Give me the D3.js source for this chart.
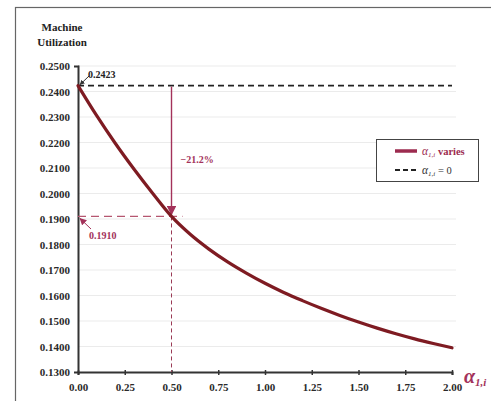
<!DOCTYPE html>
<html>
<head>
<meta charset="utf-8">
<script src="https://cdn.jsdelivr.net/npm/d3@7"></script>
<style>
  html, body { margin: 0; padding: 0; background: #fff; }
  svg { display: block; }
  text { font-family: "Liberation Serif", "DejaVu Serif", serif; }
</style>
</head>
<body>
<div id="chart"></div>
<script>
// Machine utilization as alpha(1,i) grows from 0 to 2
const alphaValues = [0.00, 0.10, 0.20, 0.30, 0.40, 0.50, 0.60, 0.70, 0.80, 0.90, 1.00,
                     1.10, 1.20, 1.30, 1.40, 1.50, 1.60, 1.70, 1.80, 1.90, 2.00];
const utilization = [0.2423, 0.2305, 0.2196, 0.2095, 0.2000, 0.1910, 0.1840, 0.1782, 0.1732, 0.1688, 0.1648,
                     0.1612, 0.1580, 0.1550, 0.1522, 0.1496, 0.1472, 0.1450, 0.1430, 0.1412, 0.1395];
const baselineValue = 0.2423;          // alpha(1,i) = 0
const markedAlpha = 0.50;
const markedValue = 0.1910;
const changeLabel = "\u221221.2%";
const yTicks = [0.13, 0.14, 0.15, 0.16, 0.17, 0.18, 0.19, 0.20, 0.21, 0.22, 0.23, 0.24, 0.25];
const xTicks = [0.00, 0.25, 0.50, 0.75, 1.00, 1.25, 1.50, 1.75, 2.00];

const W = 491, H = 401;
const curveColor = "#7e1b22";
const accent = "#a3325a";

const svg = d3.select("#chart").append("svg").attr("width", W).attr("height", H);

// outer frame
svg.append("rect").attr("x", 15.5).attr("y", 7.5).attr("width", 490).attr("height", 400)
  .attr("fill", "none").attr("stroke", "#666").attr("stroke-width", 1.2);

const x = d3.scaleLinear().domain([0, 2]).range([78, 452]);
const y = d3.scaleLinear().domain([0.13, 0.25]).range([372, 66]);

// horizontal gridlines
svg.append("g").selectAll("line").data(yTicks.slice(1)).join("line")
  .attr("x1", x(0)).attr("x2", 456)
  .attr("y1", d => y(d)).attr("y2", d => y(d))
  .attr("stroke", "#ebebeb").attr("stroke-width", 1.2);

// axes
const yAxis = svg.append("g").attr("transform", `translate(${x(0)},0)`)
  .call(d3.axisLeft(y).tickValues(yTicks).tickFormat(d3.format(".4f")).tickSize(4).tickPadding(4));
const xAxis = svg.append("g").attr("transform", `translate(0,${y(0.13)})`)
  .call(d3.axisBottom(x).tickValues(xTicks).tickFormat(d3.format(".2f")).tickSize(3).tickPadding(8));
[yAxis, xAxis].forEach(g => {
  g.select(".domain").attr("stroke", "#333").attr("stroke-width", 2);
  g.selectAll(".tick line").attr("stroke", "#333").attr("stroke-width", 1.5);
  g.selectAll(".tick text").attr("fill", "#2a2a2a").attr("font-family", "Liberation Serif, serif")
    .attr("font-size", 11).attr("font-weight", "bold");
});
xAxis.selectAll(".tick line").attr("y1", -2);
yAxis.selectAll(".tick line").attr("x2", 1);

// y axis title
const title = svg.append("text").attr("font-size", 11).attr("font-weight", "bold").attr("fill", "#222");
title.append("tspan").attr("x", 62).attr("y", 31).attr("text-anchor", "middle").text("Machine");
title.append("tspan").attr("x", 62).attr("y", 46).attr("text-anchor", "middle").text("Utilization");

// baseline (alpha = 0) dashed line
svg.append("line").attr("x1", x(0)).attr("x2", x(2))
  .attr("y1", y(baselineValue)).attr("y2", y(baselineValue))
  .attr("stroke", "#222").attr("stroke-width", 1.6).attr("stroke-dasharray", "6,4");

// reference dashed lines at the marked point
svg.append("line").attr("x1", x(0)).attr("x2", x(markedAlpha) + 11)
  .attr("y1", y(markedValue)).attr("y2", y(markedValue))
  .attr("stroke", "#b5566f").attr("stroke-width", 1.3).attr("stroke-dasharray", "8,5");
svg.append("line").attr("x1", x(markedAlpha)).attr("x2", x(markedAlpha))
  .attr("y1", y(markedValue)).attr("y2", y(0.13))
  .attr("stroke", "#9a3a55").attr("stroke-width", 1).attr("stroke-dasharray", "4,3");

// arrow markers
const defs = svg.append("defs");
defs.append("marker").attr("id", "arrowAccent").attr("viewBox", "0 0 10 10")
  .attr("refX", 9).attr("refY", 5).attr("markerWidth", 7).attr("markerHeight", 7)
  .attr("orient", "auto-start-reverse")
  .append("path").attr("d", "M0,0 L10,5 L0,10 z").attr("fill", accent);
defs.append("marker").attr("id", "arrowDark").attr("viewBox", "0 0 10 10")
  .attr("refX", 9).attr("refY", 5).attr("markerWidth", 5).attr("markerHeight", 5)
  .attr("orient", "auto")
  .append("path").attr("d", "M0,0 L10,5 L0,10 z").attr("fill", "#333");

// drop arrow from baseline to marked value
svg.append("line").attr("x1", x(markedAlpha)).attr("x2", x(markedAlpha))
  .attr("y1", y(baselineValue) + 1).attr("y2", y(markedValue) - 2)
  .attr("stroke", accent).attr("stroke-width", 1.4).attr("marker-end", "url(#arrowAccent)");
svg.append("text").attr("x", x(markedAlpha) + 9).attr("y", 163)
  .attr("font-size", 10).attr("font-weight", "bold").attr("fill", accent).text(changeLabel);

// utilization curve
const line = d3.line().x((d, i) => x(alphaValues[i])).y(d => y(d)).curve(d3.curveMonotoneX);
svg.append("path").datum(utilization).attr("d", line)
  .attr("fill", "none").attr("stroke", curveColor).attr("stroke-width", 3.2)
  .attr("stroke-linecap", "round");

// value callouts
svg.append("line").attr("x1", 89).attr("y1", 76).attr("x2", x(0) + 2).attr("y2", y(baselineValue) - 1)
  .attr("stroke", "#333").attr("stroke-width", 1).attr("marker-end", "url(#arrowDark)");
svg.append("text").attr("x", 88).attr("y", 78).attr("font-size", 10).attr("font-weight", "bold")
  .attr("fill", "#222").text(d3.format(".4f")(baselineValue));

svg.append("line").attr("x1", 91).attr("y1", 229).attr("x2", x(0) + 2).attr("y2", y(markedValue) + 2)
  .attr("stroke", accent).attr("stroke-width", 1).attr("marker-end", "url(#arrowAccent)");
svg.append("text").attr("x", 89).attr("y", 239).attr("font-size", 10).attr("font-weight", "bold")
  .attr("fill", accent).text(d3.format(".4f")(markedValue));

// legend
const lg = svg.append("g").attr("transform", "translate(376,139)");
lg.append("rect").attr("x", 0.5).attr("y", 0.5).attr("width", 102).attr("height", 42)
  .attr("fill", "#fff").attr("stroke", "#444").attr("stroke-width", 1);
lg.append("line").attr("x1", 19).attr("x2", 41).attr("y1", 12).attr("y2", 12)
  .attr("stroke", "#9c2b4f").attr("stroke-width", 3.5);
lg.append("line").attr("x1", 19).attr("x2", 41).attr("y1", 31).attr("y2", 31)
  .attr("stroke", "#222").attr("stroke-width", 2).attr("stroke-dasharray", "5,3");
const t1 = lg.append("text").attr("x", 46).attr("y", 15.5).attr("font-size", 10.5).attr("fill", "#9c2b4f");
t1.append("tspan").attr("font-style", "italic").attr("font-size", 11.5).text("\u03b1");
t1.append("tspan").attr("font-size", 7).attr("dy", 2.5).attr("font-style", "italic").text("1,i");
t1.append("tspan").attr("dy", -2.5).attr("font-weight", "bold").text(" varies");
const t2 = lg.append("text").attr("x", 46).attr("y", 34.5).attr("font-size", 10.5).attr("fill", "#333");
t2.append("tspan").attr("font-style", "italic").attr("font-size", 11.5).text("\u03b1");
t2.append("tspan").attr("font-size", 7).attr("dy", 2.5).attr("font-style", "italic").text("1,i");
t2.append("tspan").attr("dy", -2.5).text(" = 0");

// x axis title
const xt = svg.append("text").attr("x", 464).attr("y", 383).attr("fill", "#a3325a")
  .attr("font-style", "italic").attr("font-weight", "bold");
xt.append("tspan").attr("font-size", 20).text("\u03b1");
xt.append("tspan").attr("font-size", 11).attr("dy", 3).text("1,i");
</script>
</body>
</html>
